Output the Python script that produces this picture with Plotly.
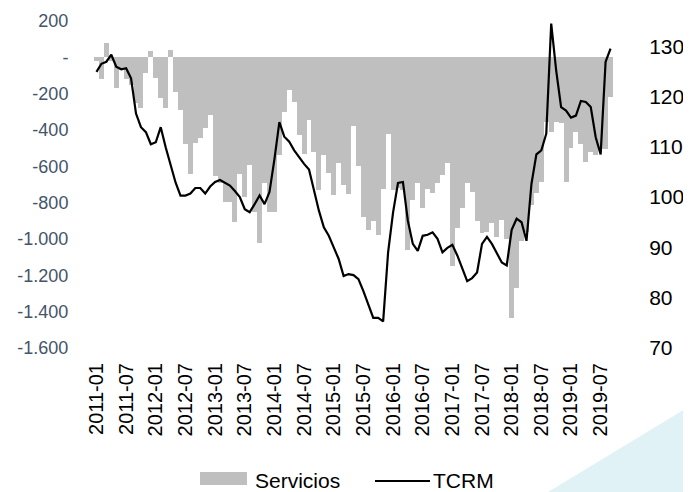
import plotly.graph_objects as go

months = [f"{y}-{m:02d}" for y in range(2011, 2020) for m in range(1, 13)][:105]

servicios = [
    -20, -120, 80, -20, -170, -60, -120, -150, -250, -277, -88, 33,
    -116, -226, -277, 38, -192, -288, -475, -640, -470, -446, -390, -315,
    -655, -693, -797, -797, -907, -640, -768, -594, -851, -1021, -693, -851,
    -851, -539, -302, -181, -246, -429, -533, -346, -522, -730, -539, -635,
    -760, -583, -700, -750, -380, -598, -880, -950, -900, -980, -722, -420,
    -730, -720, -730, -1060, -786, -693, -830, -726, -748, -693, -649, -583,
    -1150, -940, -830, -693, -742, -900, -968, -960, -913, -990, -897, -1000,
    -1435, -1270, -1010, -962, -814, -748, -687, -356, -410, -356, -360, -687,
    -500, -410, -475, -577, -520, -540, -503, -503, -220,
]

tcrm = [
    124.9, 126.5, 126.9, 128.3, 125.9, 125.4, 125.6, 123.6, 116.6, 113.9, 112.9, 110.5,
    110.9, 113.9, 109.9, 106.6, 102.9, 100.3, 100.3, 100.7, 101.8, 101.8, 100.7, 102.1,
    103.0, 103.4, 102.8, 102.3, 101.2, 100.0, 97.6, 97.0, 98.6, 100.3, 98.6, 101.0,
    107.5, 114.9, 112.0, 111.0, 109.3, 107.9, 106.6, 105.5, 101.3, 97.3, 94.0, 92.3,
    90.0, 87.7, 84.3, 84.7, 84.5, 83.7, 81.3, 78.7, 76.0, 76.0, 75.3, 89.0,
    96.9, 102.8, 103.0, 95.3, 90.7, 89.3, 92.3, 92.5, 93.0, 91.7, 89.0, 89.9,
    90.5, 88.4, 85.7, 83.3, 83.9, 85.0, 90.7, 92.1, 90.7, 89.0, 87.0, 86.4,
    93.5, 95.7, 95.0, 91.3, 102.6, 108.5, 109.3, 112.6, 134.5, 125.2, 117.9, 117.2,
    115.8, 116.2, 119.1, 118.9, 117.9, 111.9, 108.5, 126.9, 129.5,
]

left_ticks = [200, 0, -200, -400, -600, -800, -1000, -1200, -1400, -1600]
left_text = ["200", "-", "-200", "-400", "-600", "-800", "-1.000", "-1.200", "-1.400", "-1.600"]
right_ticks = [70, 80, 90, 100, 110, 120, 130]
x_ticks = months[::6]

FONT = "Liberation Sans, Arial, sans-serif"

# page has an 8px body margin: figure origin sits at (8, 8) in the screenshot
W, H = 683, 484
ML, MT = 86, 13
PW, PH = 519, 327
MR = W - ML - PW
MB = H - MT - PH

def px(x):  # screenshot x -> paper x
    return (x - 8 - ML) / PW

def py(y):  # screenshot y -> paper y
    return (MT + PH - (y - 8)) / PH

fig = go.Figure()
fig.add_trace(go.Bar(x=months, y=servicios, name="Servicios",
                     marker=dict(color="#BFBFBF", line=dict(width=0)), yaxis="y"))
fig.add_trace(go.Scatter(x=months, y=tcrm, name="TCRM", mode="lines",
                         line=dict(color="black", width=2.2), yaxis="y2"))

fig.update_layout(
    width=W, height=H,
    margin=dict(l=ML, r=MR, t=MT, b=MB, autoexpand=False),
    paper_bgcolor="white", plot_bgcolor="rgba(0,0,0,0)",
    bargap=0, showlegend=False,
    font=dict(family=FONT, color="black"),
    xaxis=dict(type="category", tickmode="array", tickvals=x_ticks, ticktext=x_ticks,
               tickangle=-90, tickfont=dict(size=20, color="black"), showgrid=False, automargin=False,
               showline=False, ticks="outside", ticklen=6, tickcolor="rgba(0,0,0,0)", zeroline=False),
    yaxis=dict(range=[-1600, 200], tickmode="array", tickvals=left_ticks, ticktext=left_text,
               tickfont=dict(size=18, color="#44546A"), showgrid=False, zeroline=False, automargin=False,
               showline=False, ticks="outside", ticklen=21, tickcolor="rgba(0,0,0,0)"),
    yaxis2=dict(range=[70, 135], overlaying="y", side="right", tickmode="array", tickvals=right_ticks,
                tickfont=dict(size=21, color="black"), showgrid=False, zeroline=False, automargin=False,
                showline=False, ticks="outside", ticklen=31, tickcolor="rgba(0,0,0,0)"),
)

# decorative light shape bottom right
fig.add_shape(type="path", xref="paper", yref="paper", layer="below",
              path=f"M {px(548)} {py(492)} L {px(700)} {py(400)} L {px(700)} {py(492)} Z",
              fillcolor="rgba(200,232,240,0.55)", line=dict(width=0))

# custom legend
fig.add_shape(type="rect", xref="paper", yref="paper", x0=px(200), x1=px(247),
              y0=py(485), y1=py(472), fillcolor="#BFBFBF", line=dict(width=0))
fig.add_annotation(xref="paper", yref="paper", x=px(253), y=py(480), text="Servicios",
                   showarrow=False, xanchor="left", yanchor="middle", font=dict(size=21, color="black"))
fig.add_shape(type="line", xref="paper", yref="paper", x0=px(375), x1=px(430),
              y0=py(481), y1=py(481), line=dict(color="black", width=2))
fig.add_annotation(xref="paper", yref="paper", x=px(431), y=py(480), text="TCRM",
                   showarrow=False, xanchor="left", yanchor="middle", font=dict(size=21, color="black"))

fig.write_html("out.html")
